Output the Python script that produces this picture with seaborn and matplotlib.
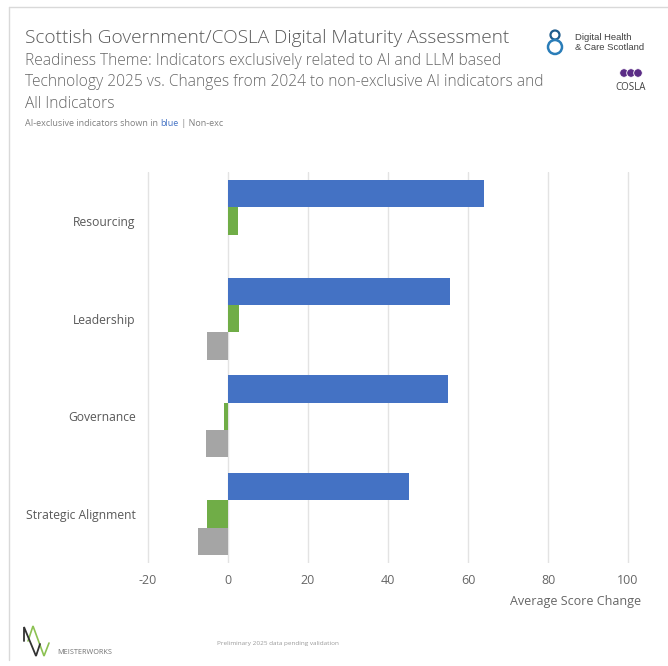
import matplotlib
matplotlib.use("Agg")
import matplotlib.pyplot as plt
from matplotlib.lines import Line2D
from matplotlib.patches import Circle
import numpy as np
import pandas as pd
import seaborn as sns

# Readiness theme indicators
themes = ["Resourcing", "Leadership", "Governance", "Strategic Alignment"]
ai_exclusive_2025 = [64.0, 55.5, 55.0, 45.2]
non_exclusive_change = [2.5, 2.8, -0.9, -5.2]
all_indicators_change = [0.0, -5.3, -5.5, -7.6]

series_names = ["AI-exclusive 2025", "Non-exclusive change", "All indicators change"]
series_colors = ["#4472C4", "#70AD47", "#A5A5A5"]
x_ticks = [-20, 0, 20, 40, 60, 80, 100]

df = pd.DataFrame({
    "Theme": themes * 3,
    "Series": np.repeat(series_names, len(themes)),
    "Value": ai_exclusive_2025 + non_exclusive_change + all_indicators_change,
})

sns.set_theme(style="white")
plt.rcParams["font.family"] = ["Open Sans", "DejaVu Sans"]

W, H = 668, 666
fig = plt.figure(figsize=(W / 100, H / 100), dpi=100)
fig.patch.set_facecolor("white")


def px(x, y):
    return x / W, 1 - y / H


# plot area in pixel coordinates
left, right, top, bottom = 140, 636, 172, 563
ax = fig.add_axes([left / W, 1 - bottom / H, (right - left) / W, (bottom - top) / H])

sns.barplot(data=df, y="Theme", x="Value", hue="Series", orient="h",
            order=themes, hue_order=series_names, palette=series_colors,
            width=0.84, dodge=True, errorbar=None, saturation=1,
            legend=False, linewidth=0, ax=ax)

ax.set_xlim(-22, 102)
ax.set_ylim(3.5, -0.5)
ax.set_xticks(x_ticks)
ax.set_xticklabels([str(t) for t in x_ticks])
ax.grid(axis="x", color="#E3E3E3", linewidth=1)
ax.set_axisbelow(True)
for s in ax.spines.values():
    s.set_visible(False)
ax.set_xlabel("")
ax.set_ylabel("")
ax.tick_params(axis="x", length=0, pad=8, labelsize=9, labelcolor="#666666")
ax.tick_params(axis="y", length=0, pad=3, labelsize=8.7, labelcolor="#595959")

# axis title
fig.text(*px(641, 601), "Average Score Change", ha="right", va="center",
         fontsize=9, color="#666666")

# frame lines
fig.add_artist(Line2D([9 / W, 1], [1 - 7 / H, 1 - 7 / H], color="#D9D9D9", lw=1))
fig.add_artist(Line2D([9 / W, 9 / W], [1 - 7 / H, 1 - 660 / H], color="#D9D9D9", lw=1))

# titles
fig.text(*px(25, 38), "Scottish Government/COSLA Digital Maturity Assessment",
         ha="left", va="center", fontsize=13.7, color="#595959", fontweight="light")
sub_lines = ["Readiness Theme: Indicators exclusively related to AI and LLM based",
             "Technology 2025 vs. Changes from 2024 to non-exclusive AI indicators and",
             "All Indicators"]
for i, line in enumerate(sub_lines):
    fig.text(*px(25, 61 + 21.3 * i), line, ha="left", va="center",
             fontsize=11.2, color="#666666", fontweight="light")

note_size = 6.5
note = fig.text(*px(25, 124), "AI-exclusive indicators shown in ", ha="left",
                va="center", fontsize=note_size, color="#808080")
fig.canvas.draw()
r = fig.canvas.get_renderer()
bb = note.get_window_extent(r)
blue_t = fig.text(bb.x1 / W, 1 - 124 / H, "blue", ha="left", va="center",
                  fontsize=note_size, color="#4472C4")
bb2 = blue_t.get_window_extent(r)
fig.text(bb2.x1 / W, 1 - 124 / H, " | Non-exc", ha="left", va="center",
         fontsize=note_size, color="#808080")

# Digital Health & Care Scotland mark
fig.add_artist(Circle(px(555, 35), 4.5 / W, transform=fig.transFigure,
                      fill=False, ec="#1F5C8C", lw=1.6))
fig.add_artist(Circle(px(555, 47), 7 / W, transform=fig.transFigure,
                      fill=False, ec="#2A7DB8", lw=1.8))
fig.text(*px(575, 38), "Digital Health", ha="left", va="center",
         fontsize=6.8, color="#404040", family=["Liberation Sans", "DejaVu Sans"])
fig.text(*px(575, 48), "& Care Scotland", ha="left", va="center",
         fontsize=6.8, color="#404040", family=["Liberation Sans", "DejaVu Sans"])

# COSLA mark
for cx in (624, 631, 638):
    fig.add_artist(Circle(px(cx, 73), 4.3 / W, transform=fig.transFigure,
                          fc="#5B2C86", ec="white", lw=0.6))
fig.text(*px(631, 88), "COSLA", ha="center", va="center", fontsize=7,
         color="#404040")

# Meisterworks mark
def pline(xs, ys, color, lw):
    fig.add_artist(Line2D([x / W for x in xs], [1 - y / H for y in ys],
                          color=color, lw=lw, solid_joinstyle="miter"))

pline([28, 33, 44, 49], [641, 626, 656, 643], "#8CC152", 1.2)
pline([24, 24, 36, 40], [641, 627, 656, 644], "#333333", 1.3)
fig.text(*px(57, 653), "MEISTERWORKS", ha="left", va="center", fontsize=5.2,
         color="#707070")

fig.text(*px(278, 643), "Preliminary 2025 data pending validation",
         ha="center", va="center", fontsize=4.6, color="#9A9A9A")

fig.savefig("out.png", dpi=100, facecolor="white")
